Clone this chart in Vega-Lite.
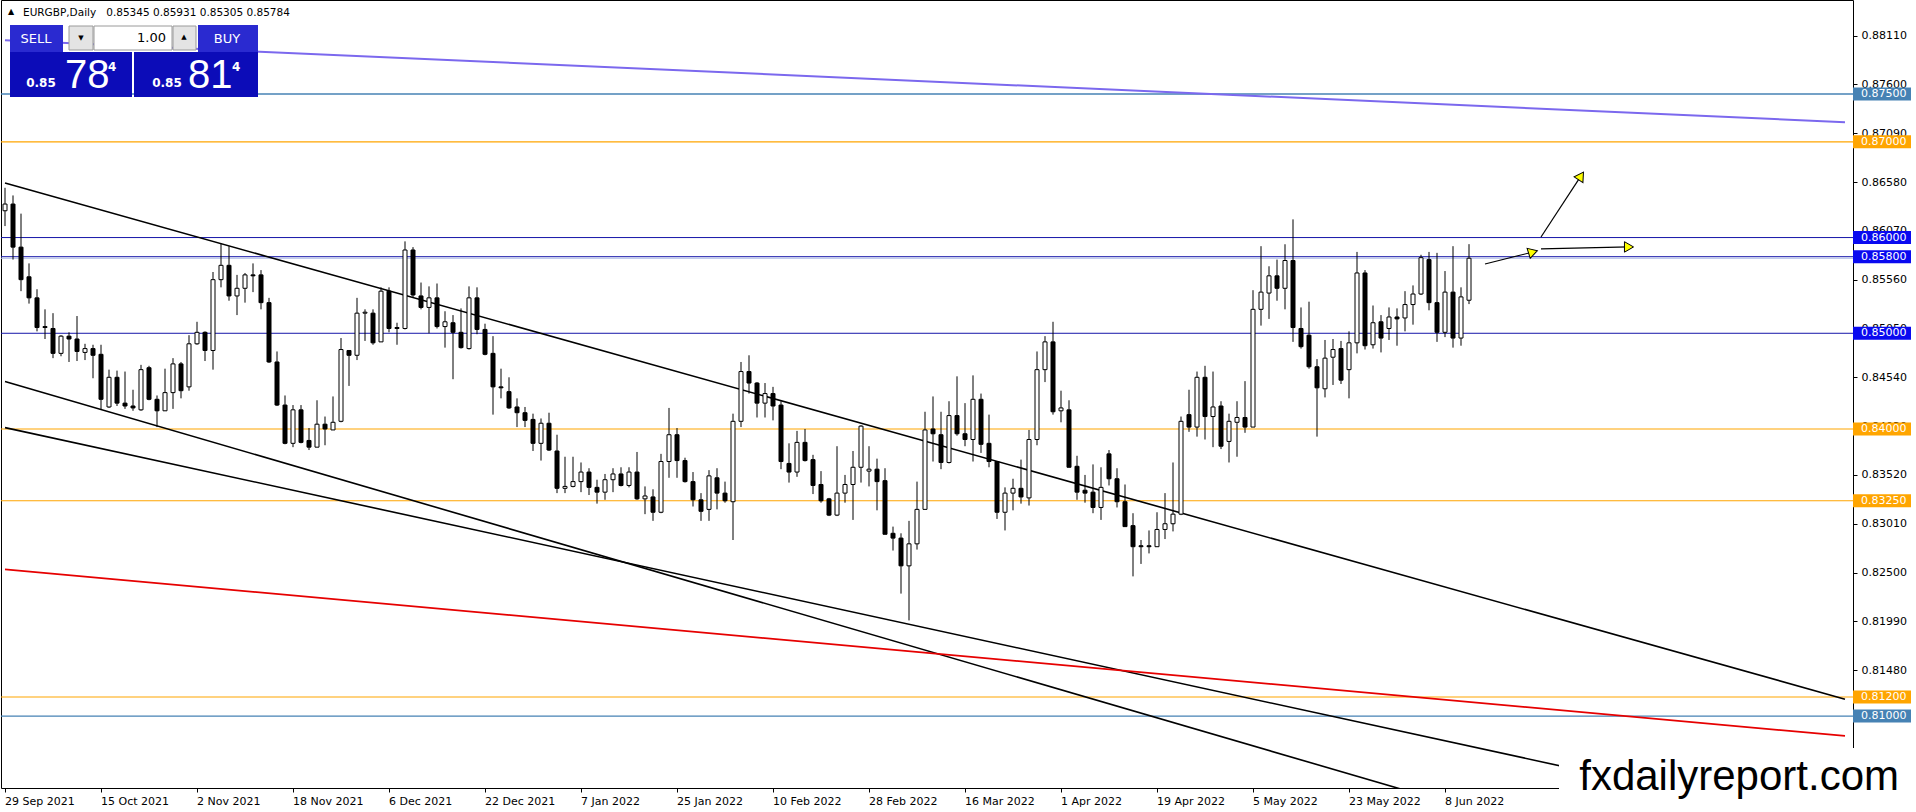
{
  "$schema": "https://vega.github.io/schema/vega-lite/v6.json",
  "width": 1852,
  "height": 788,
  "padding": 0,
  "background": "white",
  "config": {
    "font": "DejaVu Sans",
    "view": {"stroke": "black", "strokeWidth": 1},
    "axis": {"labelFontSize": 11, "labelColor": "black", "tickColor": "black", "domainColor": "black", "grid": false}
  },
  "data": {"values": [{}]},
  "datasets": {
    "lv": [
      {"price": 0.875, "kind": "steel"},
      {"price": 0.870, "kind": "orange"},
      {"price": 0.860, "kind": "blue"},
      {"price": 0.858, "kind": "blue"},
      {"price": 0.850, "kind": "blue"},
      {"price": 0.840, "kind": "orange"},
      {"price": 0.8325, "kind": "orange"},
      {"price": 0.812, "kind": "orange"},
      {"price": 0.810, "kind": "steel"}
    ],
    "tr": [
      {"a": "29 Sep 2021", "b": "17 Aug 2022", "p1": 0.88061, "p2": 0.87205, "kind": "purple"},
      {"a": "29 Sep 2021", "b": "17 Aug 2022", "p1": 0.86569, "p2": 0.81177, "kind": "black"},
      {"a": "29 Sep 2021", "b": "17 Aug 2022", "p1": 0.84497, "p2": 0.78883, "kind": "black"},
      {"a": "29 Sep 2021", "b": "17 Aug 2022", "p1": 0.84014, "p2": 0.79833, "kind": "black"},
      {"a": "29 Sep 2021", "b": "17 Aug 2022", "p1": 0.82533, "p2": 0.80793, "kind": "red"}
    ],
    "ar": [
      {"n": "a", "a": "15 Jun 2022", "b": "23 Jun 2022", "p1": 0.85724, "p2": 0.85849},
      {"n": "b", "a": "24 Jun 2022", "b": "1 Jul 2022", "p1": 0.86006, "p2": 0.86644},
      {"n": "c", "a": "24 Jun 2022", "b": "11 Jul 2022", "p1": 0.85881, "p2": 0.85902}
    ],
    "k": [
      {"d": "29 Sep 2021", "o": 0.8628, "h": 0.8652, "l": 0.8612, "c": 0.8635},
      {"d": "30 Sep 2021", "o": 0.8635, "h": 0.8644, "l": 0.8577, "c": 0.8590},
      {"d": "1 Oct 2021", "o": 0.8590, "h": 0.8625, "l": 0.8544, "c": 0.8556},
      {"d": "4 Oct 2021", "o": 0.8559, "h": 0.8573, "l": 0.8531, "c": 0.8537},
      {"d": "5 Oct 2021", "o": 0.8537, "h": 0.8546, "l": 0.8502, "c": 0.8506},
      {"d": "6 Oct 2021", "o": 0.8507, "h": 0.8525, "l": 0.8494, "c": 0.8506},
      {"d": "7 Oct 2021", "o": 0.8505, "h": 0.8521, "l": 0.8474, "c": 0.8479},
      {"d": "8 Oct 2021", "o": 0.8479, "h": 0.8498, "l": 0.8476, "c": 0.8497},
      {"d": "11 Oct 2021", "o": 0.8497, "h": 0.8501, "l": 0.8470, "c": 0.8494},
      {"d": "12 Oct 2021", "o": 0.8494, "h": 0.8518, "l": 0.8471, "c": 0.8481},
      {"d": "13 Oct 2021", "o": 0.8480, "h": 0.8489, "l": 0.8472, "c": 0.8484},
      {"d": "14 Oct 2021", "o": 0.8484, "h": 0.8488, "l": 0.8453, "c": 0.8477},
      {"d": "15 Oct 2021", "o": 0.8478, "h": 0.8488, "l": 0.8420, "c": 0.8431},
      {"d": "18 Oct 2021", "o": 0.8423, "h": 0.8462, "l": 0.8422, "c": 0.8454},
      {"d": "19 Oct 2021", "o": 0.8454, "h": 0.8461, "l": 0.8424, "c": 0.8427},
      {"d": "20 Oct 2021", "o": 0.8427, "h": 0.8460, "l": 0.8421, "c": 0.8424},
      {"d": "21 Oct 2021", "o": 0.8424, "h": 0.8441, "l": 0.8419, "c": 0.8422},
      {"d": "22 Oct 2021", "o": 0.8420, "h": 0.8467, "l": 0.8419, "c": 0.8462},
      {"d": "25 Oct 2021", "o": 0.8464, "h": 0.8466, "l": 0.8430, "c": 0.8431},
      {"d": "26 Oct 2021", "o": 0.8431, "h": 0.8435, "l": 0.8402, "c": 0.8419},
      {"d": "27 Oct 2021", "o": 0.8419, "h": 0.8463, "l": 0.8419, "c": 0.8438},
      {"d": "28 Oct 2021", "o": 0.8438, "h": 0.8474, "l": 0.8421, "c": 0.8468},
      {"d": "29 Oct 2021", "o": 0.8468, "h": 0.8470, "l": 0.8432, "c": 0.8440},
      {"d": "1 Nov 2021", "o": 0.8444, "h": 0.8498, "l": 0.8440, "c": 0.8489},
      {"d": "2 Nov 2021", "o": 0.8489, "h": 0.8512, "l": 0.8488, "c": 0.8501},
      {"d": "3 Nov 2021", "o": 0.8501, "h": 0.8502, "l": 0.8471, "c": 0.8482},
      {"d": "4 Nov 2021", "o": 0.8482, "h": 0.8564, "l": 0.8462, "c": 0.8556},
      {"d": "5 Nov 2021", "o": 0.8556, "h": 0.8594, "l": 0.8548, "c": 0.8571},
      {"d": "8 Nov 2021", "o": 0.8571, "h": 0.8591, "l": 0.8534, "c": 0.8539},
      {"d": "9 Nov 2021", "o": 0.8539, "h": 0.8561, "l": 0.8519, "c": 0.8547},
      {"d": "10 Nov 2021", "o": 0.8547, "h": 0.8563, "l": 0.8532, "c": 0.8561},
      {"d": "11 Nov 2021", "o": 0.8561, "h": 0.8573, "l": 0.8543, "c": 0.8560},
      {"d": "12 Nov 2021", "o": 0.8561, "h": 0.8566, "l": 0.8525, "c": 0.8532},
      {"d": "15 Nov 2021", "o": 0.8532, "h": 0.8537, "l": 0.8469, "c": 0.8470},
      {"d": "16 Nov 2021", "o": 0.8470, "h": 0.8481, "l": 0.8424, "c": 0.8425},
      {"d": "17 Nov 2021", "o": 0.8425, "h": 0.8435, "l": 0.8384, "c": 0.8385},
      {"d": "18 Nov 2021", "o": 0.8385, "h": 0.8425, "l": 0.8381, "c": 0.8420},
      {"d": "19 Nov 2021", "o": 0.8420, "h": 0.8425, "l": 0.8385, "c": 0.8386},
      {"d": "22 Nov 2021", "o": 0.8388, "h": 0.8401, "l": 0.8378, "c": 0.8381},
      {"d": "23 Nov 2021", "o": 0.8381, "h": 0.8430, "l": 0.8381, "c": 0.8405},
      {"d": "24 Nov 2021", "o": 0.8405, "h": 0.8413, "l": 0.8383, "c": 0.8400},
      {"d": "25 Nov 2021", "o": 0.8399, "h": 0.8434, "l": 0.8399, "c": 0.8407},
      {"d": "26 Nov 2021", "o": 0.8408, "h": 0.8495, "l": 0.8407, "c": 0.8483},
      {"d": "29 Nov 2021", "o": 0.8482, "h": 0.8482, "l": 0.8445, "c": 0.8477},
      {"d": "30 Nov 2021", "o": 0.8477, "h": 0.8537, "l": 0.8472, "c": 0.8521},
      {"d": "1 Dec 2021", "o": 0.8521, "h": 0.8525, "l": 0.8492, "c": 0.8522},
      {"d": "2 Dec 2021", "o": 0.8521, "h": 0.8525, "l": 0.8488, "c": 0.8490},
      {"d": "3 Dec 2021", "o": 0.8491, "h": 0.8548, "l": 0.8491, "c": 0.8544},
      {"d": "6 Dec 2021", "o": 0.8544, "h": 0.8548, "l": 0.8501, "c": 0.8505},
      {"d": "7 Dec 2021", "o": 0.8505, "h": 0.8511, "l": 0.8488, "c": 0.8506},
      {"d": "8 Dec 2021", "o": 0.8505, "h": 0.8596, "l": 0.8504, "c": 0.8587},
      {"d": "9 Dec 2021", "o": 0.8587, "h": 0.8590, "l": 0.8537, "c": 0.8540},
      {"d": "10 Dec 2021", "o": 0.8539, "h": 0.8553, "l": 0.8525, "c": 0.8527},
      {"d": "13 Dec 2021", "o": 0.8527, "h": 0.8549, "l": 0.8500, "c": 0.8537},
      {"d": "14 Dec 2021", "o": 0.8537, "h": 0.8552, "l": 0.8505, "c": 0.8507},
      {"d": "15 Dec 2021", "o": 0.8507, "h": 0.8523, "l": 0.8485, "c": 0.8512},
      {"d": "16 Dec 2021", "o": 0.8511, "h": 0.8519, "l": 0.8452, "c": 0.8501},
      {"d": "17 Dec 2021", "o": 0.8501, "h": 0.8526, "l": 0.8484, "c": 0.8485},
      {"d": "20 Dec 2021", "o": 0.8484, "h": 0.8549, "l": 0.8483, "c": 0.8537},
      {"d": "21 Dec 2021", "o": 0.8537, "h": 0.8548, "l": 0.8499, "c": 0.8504},
      {"d": "22 Dec 2021", "o": 0.8504, "h": 0.8510, "l": 0.8477, "c": 0.8478},
      {"d": "23 Dec 2021", "o": 0.8479, "h": 0.8497, "l": 0.8415, "c": 0.8444},
      {"d": "24 Dec 2021", "o": 0.8444, "h": 0.8463, "l": 0.8432, "c": 0.8443},
      {"d": "27 Dec 2021", "o": 0.8439, "h": 0.8454, "l": 0.8421, "c": 0.8422},
      {"d": "28 Dec 2021", "o": 0.8423, "h": 0.8432, "l": 0.8402, "c": 0.8417},
      {"d": "29 Dec 2021", "o": 0.8417, "h": 0.8423, "l": 0.8402, "c": 0.8409},
      {"d": "30 Dec 2021", "o": 0.8410, "h": 0.8416, "l": 0.8377, "c": 0.8385},
      {"d": "31 Dec 2021", "o": 0.8385, "h": 0.8411, "l": 0.8367, "c": 0.8406},
      {"d": "3 Jan 2022", "o": 0.8406, "h": 0.8417, "l": 0.8377, "c": 0.8378},
      {"d": "4 Jan 2022", "o": 0.8377, "h": 0.8394, "l": 0.8333, "c": 0.8338},
      {"d": "5 Jan 2022", "o": 0.8338, "h": 0.8371, "l": 0.8333, "c": 0.8340},
      {"d": "6 Jan 2022", "o": 0.8340, "h": 0.8371, "l": 0.8339, "c": 0.8345},
      {"d": "7 Jan 2022", "o": 0.8345, "h": 0.8365, "l": 0.8334, "c": 0.8355},
      {"d": "10 Jan 2022", "o": 0.8355, "h": 0.8359, "l": 0.8331, "c": 0.8339},
      {"d": "11 Jan 2022", "o": 0.8339, "h": 0.8347, "l": 0.8322, "c": 0.8334},
      {"d": "12 Jan 2022", "o": 0.8334, "h": 0.8353, "l": 0.8326, "c": 0.8347},
      {"d": "13 Jan 2022", "o": 0.8347, "h": 0.8359, "l": 0.8334, "c": 0.8353},
      {"d": "14 Jan 2022", "o": 0.8353, "h": 0.8360, "l": 0.8340, "c": 0.8341},
      {"d": "17 Jan 2022", "o": 0.8341, "h": 0.8360, "l": 0.8339, "c": 0.8355},
      {"d": "18 Jan 2022", "o": 0.8355, "h": 0.8376, "l": 0.8326, "c": 0.8327},
      {"d": "19 Jan 2022", "o": 0.8327, "h": 0.8340, "l": 0.8311, "c": 0.8330},
      {"d": "20 Jan 2022", "o": 0.8329, "h": 0.8337, "l": 0.8304, "c": 0.8313},
      {"d": "21 Jan 2022", "o": 0.8313, "h": 0.8374, "l": 0.8312, "c": 0.8366},
      {"d": "24 Jan 2022", "o": 0.8366, "h": 0.8422, "l": 0.8349, "c": 0.8394},
      {"d": "25 Jan 2022", "o": 0.8394, "h": 0.8401, "l": 0.8349, "c": 0.8367},
      {"d": "26 Jan 2022", "o": 0.8367, "h": 0.8370, "l": 0.8344, "c": 0.8345},
      {"d": "27 Jan 2022", "o": 0.8345, "h": 0.8355, "l": 0.8319, "c": 0.8326},
      {"d": "28 Jan 2022", "o": 0.8326, "h": 0.8333, "l": 0.8304, "c": 0.8314},
      {"d": "31 Jan 2022", "o": 0.8316, "h": 0.8357, "l": 0.8304, "c": 0.8351},
      {"d": "1 Feb 2022", "o": 0.8349, "h": 0.8359, "l": 0.8316, "c": 0.8333},
      {"d": "2 Feb 2022", "o": 0.8333, "h": 0.8345, "l": 0.8323, "c": 0.8325},
      {"d": "3 Feb 2022", "o": 0.8324, "h": 0.8416, "l": 0.8284, "c": 0.8408},
      {"d": "4 Feb 2022", "o": 0.8408, "h": 0.8470, "l": 0.8402, "c": 0.8460},
      {"d": "7 Feb 2022", "o": 0.8460, "h": 0.8477, "l": 0.8437, "c": 0.8448},
      {"d": "8 Feb 2022", "o": 0.8448, "h": 0.8449, "l": 0.8412, "c": 0.8427},
      {"d": "9 Feb 2022", "o": 0.8427, "h": 0.8448, "l": 0.8412, "c": 0.8437},
      {"d": "10 Feb 2022", "o": 0.8437, "h": 0.8444, "l": 0.8409, "c": 0.8424},
      {"d": "11 Feb 2022", "o": 0.8425, "h": 0.8429, "l": 0.8358, "c": 0.8366},
      {"d": "14 Feb 2022", "o": 0.8364, "h": 0.8385, "l": 0.8344, "c": 0.8355},
      {"d": "15 Feb 2022", "o": 0.8355, "h": 0.8398, "l": 0.8350, "c": 0.8386},
      {"d": "16 Feb 2022", "o": 0.8386, "h": 0.8400, "l": 0.8366, "c": 0.8367},
      {"d": "17 Feb 2022", "o": 0.8368, "h": 0.8373, "l": 0.8332, "c": 0.8341},
      {"d": "18 Feb 2022", "o": 0.8342, "h": 0.8356, "l": 0.8323, "c": 0.8325},
      {"d": "21 Feb 2022", "o": 0.8327, "h": 0.8328, "l": 0.8309, "c": 0.8310},
      {"d": "22 Feb 2022", "o": 0.8310, "h": 0.8382, "l": 0.8309, "c": 0.8333},
      {"d": "23 Feb 2022", "o": 0.8333, "h": 0.8352, "l": 0.8323, "c": 0.8342},
      {"d": "24 Feb 2022", "o": 0.8342, "h": 0.8377, "l": 0.8305, "c": 0.8360},
      {"d": "25 Feb 2022", "o": 0.8360, "h": 0.8404, "l": 0.8344, "c": 0.8403},
      {"d": "28 Feb 2022", "o": 0.8356, "h": 0.8382, "l": 0.8340, "c": 0.8358},
      {"d": "1 Mar 2022", "o": 0.8358, "h": 0.8369, "l": 0.8315, "c": 0.8345},
      {"d": "2 Mar 2022", "o": 0.8346, "h": 0.8359, "l": 0.8290, "c": 0.8290},
      {"d": "3 Mar 2022", "o": 0.8291, "h": 0.8298, "l": 0.8273, "c": 0.8286},
      {"d": "4 Mar 2022", "o": 0.8286, "h": 0.8291, "l": 0.8228, "c": 0.8257},
      {"d": "7 Mar 2022", "o": 0.8257, "h": 0.8304, "l": 0.8200, "c": 0.8280},
      {"d": "8 Mar 2022", "o": 0.8280, "h": 0.8345, "l": 0.8274, "c": 0.8316},
      {"d": "9 Mar 2022", "o": 0.8316, "h": 0.8418, "l": 0.8316, "c": 0.8399},
      {"d": "10 Mar 2022", "o": 0.8400, "h": 0.8434, "l": 0.8366, "c": 0.8395},
      {"d": "11 Mar 2022", "o": 0.8394, "h": 0.8418, "l": 0.8358, "c": 0.8365},
      {"d": "14 Mar 2022", "o": 0.8365, "h": 0.8429, "l": 0.8364, "c": 0.8414},
      {"d": "15 Mar 2022", "o": 0.8414, "h": 0.8455, "l": 0.8393, "c": 0.8395},
      {"d": "16 Mar 2022", "o": 0.8395, "h": 0.8427, "l": 0.8382, "c": 0.8389},
      {"d": "17 Mar 2022", "o": 0.8389, "h": 0.8456, "l": 0.8366, "c": 0.8431},
      {"d": "18 Mar 2022", "o": 0.8431, "h": 0.8437, "l": 0.8375, "c": 0.8384},
      {"d": "21 Mar 2022", "o": 0.8385, "h": 0.8415, "l": 0.8360, "c": 0.8366},
      {"d": "22 Mar 2022", "o": 0.8366, "h": 0.8366, "l": 0.8306, "c": 0.8313},
      {"d": "23 Mar 2022", "o": 0.8313, "h": 0.8339, "l": 0.8294, "c": 0.8333},
      {"d": "24 Mar 2022", "o": 0.8333, "h": 0.8348, "l": 0.8315, "c": 0.8338},
      {"d": "25 Mar 2022", "o": 0.8338, "h": 0.8368, "l": 0.8322, "c": 0.8329},
      {"d": "28 Mar 2022", "o": 0.8328, "h": 0.8399, "l": 0.8320, "c": 0.8389},
      {"d": "29 Mar 2022", "o": 0.8389, "h": 0.8481, "l": 0.8383, "c": 0.8462},
      {"d": "30 Mar 2022", "o": 0.8462, "h": 0.8497, "l": 0.8449, "c": 0.8491},
      {"d": "31 Mar 2022", "o": 0.8491, "h": 0.8512, "l": 0.8415, "c": 0.8418},
      {"d": "1 Apr 2022", "o": 0.8419, "h": 0.8440, "l": 0.8407, "c": 0.8422},
      {"d": "4 Apr 2022", "o": 0.8420, "h": 0.8430, "l": 0.8360, "c": 0.8360},
      {"d": "5 Apr 2022", "o": 0.8361, "h": 0.8372, "l": 0.8326, "c": 0.8334},
      {"d": "6 Apr 2022", "o": 0.8336, "h": 0.8352, "l": 0.8323, "c": 0.8333},
      {"d": "7 Apr 2022", "o": 0.8334, "h": 0.8363, "l": 0.8312, "c": 0.8318},
      {"d": "8 Apr 2022", "o": 0.8318, "h": 0.8360, "l": 0.8305, "c": 0.8339},
      {"d": "11 Apr 2022", "o": 0.8374, "h": 0.8378, "l": 0.8341, "c": 0.8348},
      {"d": "12 Apr 2022", "o": 0.8348, "h": 0.8359, "l": 0.8318, "c": 0.8324},
      {"d": "13 Apr 2022", "o": 0.8324, "h": 0.8342, "l": 0.8298, "c": 0.8298},
      {"d": "14 Apr 2022", "o": 0.8299, "h": 0.8312, "l": 0.8246, "c": 0.8277},
      {"d": "15 Apr 2022", "o": 0.8278, "h": 0.8284, "l": 0.8259, "c": 0.8277},
      {"d": "18 Apr 2022", "o": 0.8278, "h": 0.8294, "l": 0.8270, "c": 0.8277},
      {"d": "19 Apr 2022", "o": 0.8277, "h": 0.8313, "l": 0.8277, "c": 0.8295},
      {"d": "20 Apr 2022", "o": 0.8295, "h": 0.8333, "l": 0.8285, "c": 0.8301},
      {"d": "21 Apr 2022", "o": 0.8301, "h": 0.8365, "l": 0.8293, "c": 0.8311},
      {"d": "22 Apr 2022", "o": 0.8311, "h": 0.8413, "l": 0.8310, "c": 0.8408},
      {"d": "25 Apr 2022", "o": 0.8415, "h": 0.8441, "l": 0.8397, "c": 0.8402},
      {"d": "26 Apr 2022", "o": 0.8402, "h": 0.8460, "l": 0.8392, "c": 0.8454},
      {"d": "27 Apr 2022", "o": 0.8454, "h": 0.8466, "l": 0.8389, "c": 0.8413},
      {"d": "28 Apr 2022", "o": 0.8413, "h": 0.8460, "l": 0.8381, "c": 0.8423},
      {"d": "29 Apr 2022", "o": 0.8424, "h": 0.8429, "l": 0.8379, "c": 0.8382},
      {"d": "2 May 2022", "o": 0.8387, "h": 0.8416, "l": 0.8365, "c": 0.8408},
      {"d": "3 May 2022", "o": 0.8407, "h": 0.8429, "l": 0.8371, "c": 0.8412},
      {"d": "4 May 2022", "o": 0.8412, "h": 0.8450, "l": 0.8396, "c": 0.8402},
      {"d": "5 May 2022", "o": 0.8402, "h": 0.8545, "l": 0.8402, "c": 0.8525},
      {"d": "6 May 2022", "o": 0.8525, "h": 0.8591, "l": 0.8508, "c": 0.8543},
      {"d": "9 May 2022", "o": 0.8542, "h": 0.8570, "l": 0.8515, "c": 0.8560},
      {"d": "10 May 2022", "o": 0.8560, "h": 0.8577, "l": 0.8534, "c": 0.8547},
      {"d": "11 May 2022", "o": 0.8547, "h": 0.8593, "l": 0.8525, "c": 0.8576},
      {"d": "12 May 2022", "o": 0.8576, "h": 0.8619, "l": 0.8491, "c": 0.8506},
      {"d": "13 May 2022", "o": 0.8505, "h": 0.8527, "l": 0.8484, "c": 0.8486},
      {"d": "16 May 2022", "o": 0.8498, "h": 0.8533, "l": 0.8463, "c": 0.8465},
      {"d": "17 May 2022", "o": 0.8465, "h": 0.8473, "l": 0.8392, "c": 0.8443},
      {"d": "18 May 2022", "o": 0.8442, "h": 0.8493, "l": 0.8433, "c": 0.8474},
      {"d": "19 May 2022", "o": 0.8475, "h": 0.8494, "l": 0.8446, "c": 0.8483},
      {"d": "20 May 2022", "o": 0.8484, "h": 0.8492, "l": 0.8447, "c": 0.8451},
      {"d": "23 May 2022", "o": 0.8462, "h": 0.8502, "l": 0.8432, "c": 0.8490},
      {"d": "24 May 2022", "o": 0.8490, "h": 0.8585, "l": 0.8479, "c": 0.8563},
      {"d": "25 May 2022", "o": 0.8563, "h": 0.8566, "l": 0.8483, "c": 0.8487},
      {"d": "26 May 2022", "o": 0.8488, "h": 0.8529, "l": 0.8484, "c": 0.8511},
      {"d": "27 May 2022", "o": 0.8512, "h": 0.8519, "l": 0.8480, "c": 0.8495},
      {"d": "30 May 2022", "o": 0.8505, "h": 0.8527, "l": 0.8493, "c": 0.8517},
      {"d": "31 May 2022", "o": 0.8517, "h": 0.8526, "l": 0.8487, "c": 0.8515},
      {"d": "1 Jun 2022", "o": 0.8516, "h": 0.8544, "l": 0.8502, "c": 0.8530},
      {"d": "2 Jun 2022", "o": 0.8530, "h": 0.8550, "l": 0.8509, "c": 0.8541},
      {"d": "3 Jun 2022", "o": 0.8541, "h": 0.8582, "l": 0.8540, "c": 0.8579},
      {"d": "6 Jun 2022", "o": 0.8577, "h": 0.8585, "l": 0.8524, "c": 0.8532},
      {"d": "7 Jun 2022", "o": 0.8532, "h": 0.8584, "l": 0.8491, "c": 0.8501},
      {"d": "8 Jun 2022", "o": 0.8501, "h": 0.8565, "l": 0.8496, "c": 0.8543},
      {"d": "9 Jun 2022", "o": 0.8543, "h": 0.8591, "l": 0.8485, "c": 0.8495},
      {"d": "10 Jun 2022", "o": 0.8495, "h": 0.8548, "l": 0.8487, "c": 0.8538},
      {"d": "13 Jun 2022", "o": 0.85345, "h": 0.85931, "l": 0.85305, "c": 0.85784}
    ]
  },
  "layer": [
    {
      "data": {"name": "lv"},
      "mark": {"type": "rule"},
      "encoding": {
        "y": {
          "field": "price", "type": "quantitative", "title": null,
          "scale": {"domain": [0.80249, 0.88482], "zero": false, "nice": false},
          "axis": {
            "orient": "right", "format": ".5f", "tickSize": 4, "labelPadding": 4, "domain": false,
            "values": [0.8811, 0.876, 0.8709, 0.8658, 0.8607, 0.8556, 0.8505, 0.8454, 0.8403, 0.8352, 0.8301, 0.825, 0.8199, 0.8148]
          }
        },
        "stroke": {
          "field": "kind", "type": "nominal", "legend": null,
          "scale": {"domain": ["blue", "orange", "steel", "black", "red", "purple"], "range": ["#1616a8", "#ffa500", "#4682b4", "#000000", "#e60000", "#7b68ee"]}
        },
        "strokeWidth": {
          "field": "kind", "type": "nominal", "legend": null,
          "scale": {"domain": ["blue", "orange", "steel", "black", "red", "purple"], "range": [1, 2, 1.6, 2, 2, 1.4]}
        }
      }
    },
    {
      "mark": {"type": "rule", "color": "#aab8e6", "strokeWidth": 1},
      "encoding": {"y": {"datum": 0.85784, "type": "quantitative"}}
    },
    {
      "data": {"name": "tr"},
      "mark": {"type": "rule", "clip": true},
      "encoding": {
        "x": {
          "field": "a", "type": "ordinal", "title": null,
          "scale": {
            "paddingInner": 0, "paddingOuter": 0.25, "align": 0,
            "domain": ["29 Sep 2021","30 Sep 2021",
              "1 Oct 2021","4 Oct 2021","5 Oct 2021","6 Oct 2021","7 Oct 2021","8 Oct 2021","11 Oct 2021","12 Oct 2021","13 Oct 2021","14 Oct 2021","15 Oct 2021","18 Oct 2021","19 Oct 2021","20 Oct 2021","21 Oct 2021","22 Oct 2021","25 Oct 2021","26 Oct 2021","27 Oct 2021","28 Oct 2021","29 Oct 2021",
              "1 Nov 2021","2 Nov 2021","3 Nov 2021","4 Nov 2021","5 Nov 2021","8 Nov 2021","9 Nov 2021","10 Nov 2021","11 Nov 2021","12 Nov 2021","15 Nov 2021","16 Nov 2021","17 Nov 2021","18 Nov 2021","19 Nov 2021","22 Nov 2021","23 Nov 2021","24 Nov 2021","25 Nov 2021","26 Nov 2021","29 Nov 2021","30 Nov 2021",
              "1 Dec 2021","2 Dec 2021","3 Dec 2021","6 Dec 2021","7 Dec 2021","8 Dec 2021","9 Dec 2021","10 Dec 2021","13 Dec 2021","14 Dec 2021","15 Dec 2021","16 Dec 2021","17 Dec 2021","20 Dec 2021","21 Dec 2021","22 Dec 2021","23 Dec 2021","24 Dec 2021","27 Dec 2021","28 Dec 2021","29 Dec 2021","30 Dec 2021","31 Dec 2021",
              "3 Jan 2022","4 Jan 2022","5 Jan 2022","6 Jan 2022","7 Jan 2022","10 Jan 2022","11 Jan 2022","12 Jan 2022","13 Jan 2022","14 Jan 2022","17 Jan 2022","18 Jan 2022","19 Jan 2022","20 Jan 2022","21 Jan 2022","24 Jan 2022","25 Jan 2022","26 Jan 2022","27 Jan 2022","28 Jan 2022","31 Jan 2022",
              "1 Feb 2022","2 Feb 2022","3 Feb 2022","4 Feb 2022","7 Feb 2022","8 Feb 2022","9 Feb 2022","10 Feb 2022","11 Feb 2022","14 Feb 2022","15 Feb 2022","16 Feb 2022","17 Feb 2022","18 Feb 2022","21 Feb 2022","22 Feb 2022","23 Feb 2022","24 Feb 2022","25 Feb 2022","28 Feb 2022",
              "1 Mar 2022","2 Mar 2022","3 Mar 2022","4 Mar 2022","7 Mar 2022","8 Mar 2022","9 Mar 2022","10 Mar 2022","11 Mar 2022","14 Mar 2022","15 Mar 2022","16 Mar 2022","17 Mar 2022","18 Mar 2022","21 Mar 2022","22 Mar 2022","23 Mar 2022","24 Mar 2022","25 Mar 2022","28 Mar 2022","29 Mar 2022","30 Mar 2022","31 Mar 2022",
              "1 Apr 2022","4 Apr 2022","5 Apr 2022","6 Apr 2022","7 Apr 2022","8 Apr 2022","11 Apr 2022","12 Apr 2022","13 Apr 2022","14 Apr 2022","15 Apr 2022","18 Apr 2022","19 Apr 2022","20 Apr 2022","21 Apr 2022","22 Apr 2022","25 Apr 2022","26 Apr 2022","27 Apr 2022","28 Apr 2022","29 Apr 2022",
              "2 May 2022","3 May 2022","4 May 2022","5 May 2022","6 May 2022","9 May 2022","10 May 2022","11 May 2022","12 May 2022","13 May 2022","16 May 2022","17 May 2022","18 May 2022","19 May 2022","20 May 2022","23 May 2022","24 May 2022","25 May 2022","26 May 2022","27 May 2022","30 May 2022","31 May 2022",
              "1 Jun 2022","2 Jun 2022","3 Jun 2022","6 Jun 2022","7 Jun 2022","8 Jun 2022","9 Jun 2022","10 Jun 2022","13 Jun 2022","14 Jun 2022","15 Jun 2022","16 Jun 2022","17 Jun 2022","20 Jun 2022","21 Jun 2022","22 Jun 2022","23 Jun 2022","24 Jun 2022","27 Jun 2022","28 Jun 2022","29 Jun 2022","30 Jun 2022",
              "1 Jul 2022","4 Jul 2022","5 Jul 2022","6 Jul 2022","7 Jul 2022","8 Jul 2022","11 Jul 2022","12 Jul 2022","13 Jul 2022","14 Jul 2022","15 Jul 2022","18 Jul 2022","19 Jul 2022","20 Jul 2022","21 Jul 2022","22 Jul 2022","25 Jul 2022","26 Jul 2022","27 Jul 2022","28 Jul 2022","29 Jul 2022",
              "1 Aug 2022","2 Aug 2022","3 Aug 2022","4 Aug 2022","5 Aug 2022","8 Aug 2022","9 Aug 2022","10 Aug 2022","11 Aug 2022","12 Aug 2022","15 Aug 2022","16 Aug 2022","17 Aug 2022"]
          },
          "axis": {
            "orient": "bottom", "labelAngle": 0, "labelAlign": "left", "labelBaseline": "top", "labelPadding": 3,
            "tickSize": 4, "domain": false, "labelOverlap": false, "labelFlush": false,
            "values": ["29 Sep 2021","15 Oct 2021","2 Nov 2021","18 Nov 2021","6 Dec 2021","22 Dec 2021","7 Jan 2022","25 Jan 2022","10 Feb 2022","28 Feb 2022","16 Mar 2022","1 Apr 2022","19 Apr 2022","5 May 2022","23 May 2022","8 Jun 2022"]
          }
        },
        "x2": {"field": "b"},
        "y": {"field": "p1", "type": "quantitative", "title": null},
        "y2": {"field": "p2"},
        "stroke": {"field": "kind", "type": "nominal", "legend": null},
        "strokeWidth": {"field": "kind", "type": "nominal", "legend": null}
      }
    },
    {
      "data": {"name": "k"},
      "mark": {"type": "rule", "color": "black", "strokeWidth": 1},
      "encoding": {
        "x": {"field": "d", "type": "ordinal", "title": null},
        "y": {"field": "l", "type": "quantitative", "title": null},
        "y2": {"field": "h"}
      }
    },
    {
      "data": {"name": "k"},
      "mark": {"type": "bar", "width": {"band": 0.5}, "stroke": "black", "strokeWidth": 1},
      "encoding": {
        "x": {"field": "d", "type": "ordinal", "title": null},
        "y": {"field": "o", "type": "quantitative", "title": null},
        "y2": {"field": "c"},
        "fill": {"condition": {"test": "datum.c < datum.o", "value": "black"}, "value": "white"}
      }
    },
    {
      "data": {"name": "ar"},
      "mark": {"type": "rule", "color": "black", "strokeWidth": 1.2},
      "encoding": {
        "x": {"field": "a", "type": "ordinal", "title": null},
        "x2": {"field": "b"},
        "y": {"field": "p1", "type": "quantitative", "title": null},
        "y2": {"field": "p2"}
      }
    },
    {
      "data": {"name": "ar"},
      "transform": [{"filter": "datum.n == 'a'"}],
      "mark": {"type": "point", "shape": "triangle-right", "angle": 343, "size": 110, "filled": true, "fill": "#ffff00", "stroke": "black", "strokeWidth": 1, "opacity": 1},
      "encoding": {
        "x": {"field": "b", "type": "ordinal", "title": null},
        "y": {"field": "p2", "type": "quantitative", "title": null}
      }
    },
    {
      "data": {"name": "ar"},
      "transform": [{"filter": "datum.n == 'b'"}],
      "mark": {"type": "point", "shape": "triangle-right", "angle": 303, "size": 110, "filled": true, "fill": "#ffff00", "stroke": "black", "strokeWidth": 1, "opacity": 1},
      "encoding": {
        "x": {"field": "b", "type": "ordinal", "title": null},
        "y": {"field": "p2", "type": "quantitative", "title": null}
      }
    },
    {
      "data": {"name": "ar"},
      "transform": [{"filter": "datum.n == 'c'"}],
      "mark": {"type": "point", "shape": "triangle-right", "angle": 0, "size": 110, "filled": true, "fill": "#ffff00", "stroke": "black", "strokeWidth": 1, "opacity": 1},
      "encoding": {
        "x": {"field": "b", "type": "ordinal", "title": null},
        "y": {"field": "p2", "type": "quantitative", "title": null}
      }
    },
    {
      "data": {"name": "lv"},
      "mark": {"type": "point", "shape": "M0.08,-0.065H0.66V0.065H0.08Z", "size": 40000, "filled": true, "opacity": 1, "strokeWidth": 0},
      "encoding": {
        "x": {"datum": "17 Aug 2022", "type": "ordinal"},
        "y": {"field": "price", "type": "quantitative", "title": null},
        "fill": {
          "field": "kind", "type": "nominal", "legend": null,
          "scale": {"domain": ["blue", "orange", "steel"], "range": ["#0a0af0", "#ffa500", "#4682b4"]}
        }
      }
    },
    {
      "data": {"name": "lv"},
      "mark": {"type": "text", "align": "left", "baseline": "middle", "dx": 16, "fontSize": 11, "color": "white"},
      "encoding": {
        "x": {"datum": "17 Aug 2022", "type": "ordinal"},
        "y": {"field": "price", "type": "quantitative", "title": null},
        "text": {"field": "price", "type": "quantitative", "format": ".5f"}
      }
    },
    {
      "mark": {"type": "point", "shape": "M0.05,0.25H0.58V0.52H0.05Z M1.93,0.25H2.53V0.52H1.93Z", "size": 40000, "filled": true, "opacity": 1, "fill": "#2a2ad0", "strokeWidth": 0},
      "encoding": {"x": {"datum": "29 Sep 2021", "type": "ordinal"}, "y": {"datum": 0.88482, "type": "quantitative"}}
    },
    {
      "mark": {"type": "point", "shape": "M0.05,0.52H1.27V0.97H0.05Z M1.29,0.52H2.53V0.97H1.29Z", "size": 40000, "filled": true, "opacity": 1, "fill": "#0c0cb8", "strokeWidth": 0},
      "encoding": {"x": {"datum": "29 Sep 2021", "type": "ordinal"}, "y": {"datum": 0.88482, "type": "quantitative"}}
    },
    {
      "mark": {"type": "point", "shape": "M0.64,0.26H0.88V0.50H0.64Z M1.68,0.26H1.91V0.50H1.68Z", "size": 40000, "filled": true, "opacity": 1, "fill": "#e4e4e4", "stroke": "#9a9a9a", "strokeWidth": 1},
      "encoding": {"x": {"datum": "29 Sep 2021", "type": "ordinal"}, "y": {"datum": 0.88482, "type": "quantitative"}}
    },
    {
      "mark": {"type": "point", "shape": "M0.89,0.26H1.67V0.50H0.89Z", "size": 40000, "filled": true, "opacity": 1, "fill": "white", "stroke": "#9a9a9a", "strokeWidth": 1},
      "encoding": {"x": {"datum": "29 Sep 2021", "type": "ordinal"}, "y": {"datum": 0.88482, "type": "quantitative"}}
    },
    {
      "mark": {"type": "text", "text": "▲", "dx": 6, "dy": 12, "align": "center", "baseline": "middle", "fontSize": 8, "color": "black"},
      "encoding": {"x": {"datum": "29 Sep 2021", "type": "ordinal"}, "y": {"datum": 0.88482, "type": "quantitative"}}
    },
    {
      "mark": {"type": "text", "text": "EURGBP,Daily\u00a0\u00a0 0.85345 0.85931 0.85305 0.85784", "dx": 18, "dy": 13, "align": "left", "baseline": "middle", "fontSize": 10.5, "color": "black"},
      "encoding": {"x": {"datum": "29 Sep 2021", "type": "ordinal"}, "y": {"datum": 0.88482, "type": "quantitative"}}
    },
    {
      "mark": {"type": "text", "text": "SELL", "dx": 31, "dy": 39, "align": "center", "baseline": "middle", "fontSize": 13, "color": "white"},
      "encoding": {"x": {"datum": "29 Sep 2021", "type": "ordinal"}, "y": {"datum": 0.88482, "type": "quantitative"}}
    },
    {
      "mark": {"type": "text", "text": "BUY", "dx": 222, "dy": 39, "align": "center", "baseline": "middle", "fontSize": 13, "color": "white"},
      "encoding": {"x": {"datum": "29 Sep 2021", "type": "ordinal"}, "y": {"datum": 0.88482, "type": "quantitative"}}
    },
    {
      "mark": {"type": "text", "text": "1.00", "dx": 161, "dy": 38, "align": "right", "baseline": "middle", "fontSize": 13, "color": "black"},
      "encoding": {"x": {"datum": "29 Sep 2021", "type": "ordinal"}, "y": {"datum": 0.88482, "type": "quantitative"}}
    },
    {
      "mark": {"type": "text", "text": "▼", "dx": 76, "dy": 38, "align": "center", "baseline": "middle", "fontSize": 7, "color": "black"},
      "encoding": {"x": {"datum": "29 Sep 2021", "type": "ordinal"}, "y": {"datum": 0.88482, "type": "quantitative"}}
    },
    {
      "mark": {"type": "text", "text": "▲", "dx": 179, "dy": 37, "align": "center", "baseline": "middle", "fontSize": 7, "color": "black"},
      "encoding": {"x": {"datum": "29 Sep 2021", "type": "ordinal"}, "y": {"datum": 0.88482, "type": "quantitative"}}
    },
    {
      "mark": {"type": "text", "text": "0.85", "dx": 36, "dy": 83, "align": "center", "baseline": "middle", "fontSize": 12, "fontWeight": "bold", "color": "white"},
      "encoding": {"x": {"datum": "29 Sep 2021", "type": "ordinal"}, "y": {"datum": 0.88482, "type": "quantitative"}}
    },
    {
      "mark": {"type": "text", "text": "0.85", "dx": 162, "dy": 83, "align": "center", "baseline": "middle", "fontSize": 12, "fontWeight": "bold", "color": "white"},
      "encoding": {"x": {"datum": "29 Sep 2021", "type": "ordinal"}, "y": {"datum": 0.88482, "type": "quantitative"}}
    },
    {
      "mark": {"type": "text", "text": "78", "dx": 60, "dy": 88, "align": "left", "baseline": "alphabetic", "fontSize": 40, "font": "Liberation Sans", "color": "white"},
      "encoding": {"x": {"datum": "29 Sep 2021", "type": "ordinal"}, "y": {"datum": 0.88482, "type": "quantitative"}}
    },
    {
      "mark": {"type": "text", "text": "81", "dx": 183, "dy": 88, "align": "left", "baseline": "alphabetic", "fontSize": 40, "font": "Liberation Sans", "color": "white"},
      "encoding": {"x": {"datum": "29 Sep 2021", "type": "ordinal"}, "y": {"datum": 0.88482, "type": "quantitative"}}
    },
    {
      "mark": {"type": "text", "text": "4", "dx": 103, "dy": 71, "align": "left", "baseline": "alphabetic", "fontSize": 12, "fontWeight": "bold", "color": "white"},
      "encoding": {"x": {"datum": "29 Sep 2021", "type": "ordinal"}, "y": {"datum": 0.88482, "type": "quantitative"}}
    },
    {
      "mark": {"type": "text", "text": "4", "dx": 227, "dy": 71, "align": "left", "baseline": "alphabetic", "fontSize": 12, "fontWeight": "bold", "color": "white"},
      "encoding": {"x": {"datum": "29 Sep 2021", "type": "ordinal"}, "y": {"datum": 0.88482, "type": "quantitative"}}
    },
    {
      "mark": {"type": "point", "shape": "M-2.86,-0.42H0.72V0.22H-2.86Z", "size": 40000, "filled": true, "opacity": 1, "fill": "white", "strokeWidth": 0},
      "encoding": {"x": {"datum": "17 Aug 2022", "type": "ordinal"}, "y": {"datum": 0.80228, "type": "quantitative"}}
    },
    {
      "mark": {"type": "text", "text": "fxdailyreport.com", "dx": 54, "align": "right", "baseline": "alphabetic", "fontSize": 42, "font": "Liberation Sans", "color": "black"},
      "encoding": {"x": {"datum": "17 Aug 2022", "type": "ordinal"}, "y": {"datum": 0.80228, "type": "quantitative"}}
    }
  ]
}
